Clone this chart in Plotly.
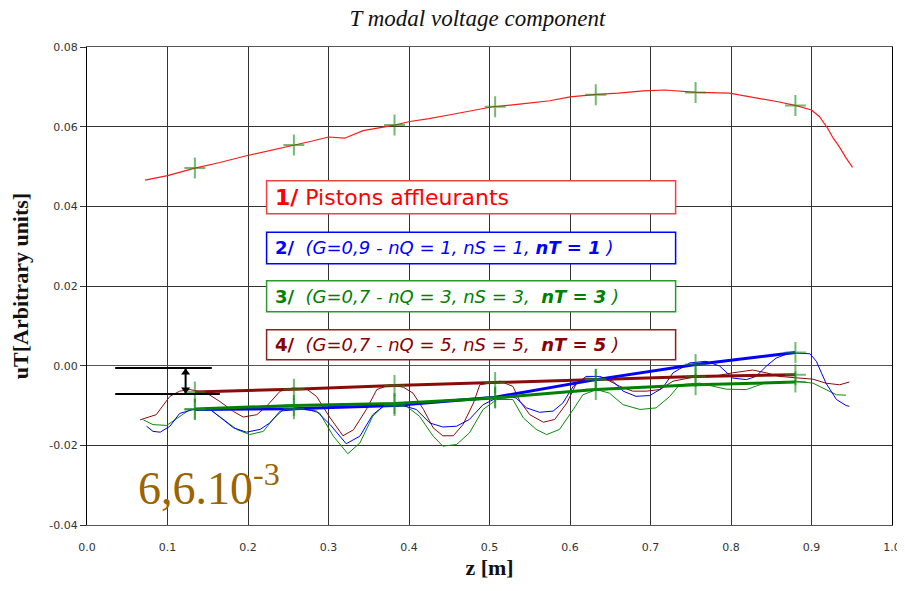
import plotly.graph_objects as go

# ---- data ----
red_x = [0.072, 0.100, 0.134, 0.165, 0.198, 0.230, 0.258, 0.280, 0.300, 0.320, 0.343, 0.362, 0.382,
         0.401, 0.425, 0.451, 0.478, 0.504, 0.540, 0.575, 0.600, 0.633, 0.660, 0.691, 0.718,
         0.757, 0.798, 0.836, 0.860, 0.881, 0.900, 0.910, 0.920, 0.927, 0.935, 0.943, 0.951]
red_y = [0.0466, 0.0477, 0.0496, 0.0510, 0.0527, 0.0541, 0.0554, 0.0564, 0.0574, 0.0571, 0.0590, 0.0597, 0.0604,
         0.0613, 0.0620, 0.0630, 0.0640, 0.0650, 0.0657, 0.0665, 0.0675, 0.0681, 0.0684, 0.0690, 0.0692,
         0.0686, 0.0684, 0.0671, 0.0662, 0.0653, 0.0642, 0.0625, 0.0596, 0.0571, 0.0548, 0.0521, 0.0498]

dred_x = [0.066, 0.086, 0.103, 0.115, 0.128, 0.149, 0.165, 0.182, 0.194, 0.211, 0.223, 0.240, 0.256, 0.273,
          0.285, 0.302, 0.318, 0.331, 0.347, 0.360, 0.376, 0.393, 0.405, 0.418, 0.430, 0.442, 0.455, 0.467,
          0.480, 0.488, 0.513, 0.529, 0.538, 0.550, 0.567, 0.581, 0.596, 0.608, 0.620, 0.645, 0.662, 0.678,
          0.695, 0.711, 0.728, 0.753, 0.778, 0.802, 0.827, 0.844, 0.860, 0.885, 0.902, 0.918, 0.935, 0.947]
dred_y = [-0.0136, -0.0123, -0.0077, -0.0064, -0.0060, -0.0069, -0.0090, -0.0115, -0.0129, -0.0123, -0.0102,
          -0.0064, -0.0056, -0.0059, -0.0077, -0.0131, -0.0176, -0.0161, -0.0110, -0.0060, -0.0048, -0.0054,
          -0.0069, -0.0110, -0.0156, -0.0176, -0.0176, -0.0148, -0.0094, -0.0048, -0.0039, -0.0052, -0.0090,
          -0.0123, -0.0142, -0.0135, -0.0094, -0.0044, -0.0031, -0.0034, -0.0052, -0.0064, -0.0064, -0.0060,
          -0.0039, -0.0029, -0.0027, -0.0018, -0.0011, -0.0018, -0.0027, -0.0031, -0.0034, -0.0044, -0.0048,
          -0.0041]

blue_x = [0.074, 0.082, 0.091, 0.103, 0.115, 0.132, 0.153, 0.165, 0.182, 0.198, 0.215, 0.227, 0.240, 0.265,
          0.285, 0.302, 0.322, 0.339, 0.355, 0.368, 0.389, 0.409, 0.426, 0.442, 0.459, 0.475, 0.492, 0.509,
          0.521, 0.533, 0.546, 0.562, 0.579, 0.591, 0.604, 0.620, 0.637, 0.653, 0.666, 0.682, 0.699, 0.715,
          0.728, 0.749, 0.769, 0.786, 0.802, 0.819, 0.831, 0.844, 0.856, 0.873, 0.898, 0.906, 0.918, 0.931,
          0.943, 0.947]
blue_y = [-0.0152, -0.0165, -0.0167, -0.0152, -0.0120, -0.0110, -0.0110, -0.0129, -0.0156, -0.0167, -0.0160,
          -0.0144, -0.0114, -0.0109, -0.0114, -0.0148, -0.0196, -0.0177, -0.0123, -0.0102, -0.0098, -0.0110,
          -0.0144, -0.0154, -0.0152, -0.0135, -0.0098, -0.0081, -0.0077, -0.0081, -0.0106, -0.0117, -0.0114,
          -0.0094, -0.0052, -0.0027, -0.0027, -0.0039, -0.0064, -0.0077, -0.0075, -0.0056, -0.0018, 0.0007,
          0.0011, -0.0001, -0.0031, -0.0035, -0.0027, -0.0001, 0.0019, 0.0032, 0.0030, 0.0011, -0.0044,
          -0.0085, -0.0100, -0.0102]

green_x = [0.070, 0.082, 0.099, 0.115, 0.128, 0.153, 0.169, 0.186, 0.202, 0.219, 0.231, 0.244, 0.273, 0.289,
           0.306, 0.324, 0.339, 0.355, 0.368, 0.397, 0.413, 0.430, 0.442, 0.459, 0.475, 0.492, 0.509, 0.529,
           0.542, 0.558, 0.571, 0.587, 0.604, 0.616, 0.633, 0.649, 0.666, 0.687, 0.707, 0.724, 0.736, 0.761,
           0.794, 0.819, 0.840, 0.860, 0.881, 0.902, 0.918, 0.931, 0.943]
green_y = [-0.0136, -0.0148, -0.0150, -0.0127, -0.0110, -0.0110, -0.0135, -0.0160, -0.0173, -0.0165, -0.0135,
           -0.0110, -0.0109, -0.0119, -0.0177, -0.0221, -0.0194, -0.0127, -0.0102, -0.0102, -0.0127, -0.0177,
           -0.0202, -0.0198, -0.0169, -0.0110, -0.0085, -0.0085, -0.0131, -0.0160, -0.0173, -0.0160, -0.0110,
           -0.0073, -0.0060, -0.0069, -0.0098, -0.0110, -0.0106, -0.0077, -0.0048, -0.0044, -0.0059, -0.0060,
           -0.0045, -0.0042, -0.0039, -0.0044, -0.0060, -0.0073, -0.0074]

cross_x = [0.134, 0.257, 0.382, 0.507, 0.632, 0.756, 0.880]
red_cross = [0.0496, 0.0554, 0.0604, 0.0650, 0.0680, 0.0686, 0.0653]
blue_fit = [-0.0110, -0.0108, -0.0100, -0.0079, -0.0035, 0.0003, 0.0033]
green_fit = [-0.0109, -0.0100, -0.0095, -0.0081, -0.0060, -0.0048, -0.0041]
dred_fit = [-0.0066, -0.0059, -0.0050, -0.0042, -0.0034, -0.0027, -0.0023]

# offset marker (6,6.10^-3) between the two reference levels
offset_x = 0.1225
offset_top = -0.0006
offset_bottom = -0.0071

x_ticks = [0.0, 0.1, 0.2, 0.3, 0.4, 0.5, 0.6, 0.7, 0.8, 0.9, 1.0]
y_ticks = [-0.04, -0.02, 0.0, 0.02, 0.04, 0.06, 0.08]

legend_texts = [
    "<b>1/</b> Pistons affleurants",
    "<b>2/</b>  <i>(G=0,9 - nQ = 1, nS = 1, <b>nT = 1</b> )</i>",
    "<b>3/</b>  <i>(G=0,7 - nQ = 3, nS = 3,  <b>nT = 3</b> )</i>",
    "<b>4/</b>  <i>(G=0,7 - nQ = 5, nS = 5,  <b>nT = 5</b> )</i>",
]

RED = "#ff1a1a"
BLUE = "#0000ff"
GREEN = "#0a8a0a"
DRED = "#8b0a0a"
CROSS = "rgba(20,140,20,0.6)"

fig = go.Figure()

fig.add_trace(go.Scatter(x=red_x, y=red_y, mode="lines", line=dict(color=RED, width=1.2)))
fig.add_trace(go.Scatter(x=dred_x, y=dred_y, mode="lines", line=dict(color=DRED, width=1)))
fig.add_trace(go.Scatter(x=green_x, y=green_y, mode="lines", line=dict(color=GREEN, width=1)))
fig.add_trace(go.Scatter(x=blue_x, y=blue_y, mode="lines", line=dict(color=BLUE, width=1)))

fig.add_trace(go.Scatter(x=cross_x, y=dred_fit, mode="lines", line=dict(color=DRED, width=3)))
fig.add_trace(go.Scatter(x=cross_x, y=blue_fit, mode="lines", line=dict(color=BLUE, width=3)))
fig.add_trace(go.Scatter(x=cross_x, y=green_fit, mode="lines", line=dict(color="#008000", width=3)))

for ys in (red_cross, dred_fit, blue_fit, green_fit):
    fig.add_trace(go.Scatter(x=cross_x, y=ys, mode="markers",
                             marker=dict(symbol="cross-thin", size=15,
                                         line=dict(color=CROSS, width=2))))

# double arrow for the offset
fig.add_trace(go.Scatter(x=[offset_x, offset_x], y=[offset_top, offset_bottom], mode="lines",
                         line=dict(color="black", width=2)))
fig.add_trace(go.Scatter(x=[offset_x, offset_x], y=[offset_top - 0.0011, offset_bottom + 0.0011],
                         mode="markers",
                         marker=dict(symbol=["triangle-up", "triangle-down"], size=8, color="black")))

# legend boxes (paper coords of the plot area)
boxes = [
    (0.7200, 0.6510, "#f04040", "#ff0000", 22),
    (0.6127, 0.5465, "#0000ff", "#0000ff", 18),
    (0.5110, 0.4462, "#2a9a2a", "#008000", 18),
    (0.4086, 0.3459, "#8b2020", "#8b0000", 18),
]
shapes = []
annotations = []
for (y1, y0, bc, tc, fs), txt in zip(boxes, legend_texts):
    shapes.append(dict(type="rect", xref="paper", yref="paper", x0=0.2231, x1=0.7312,
                       y0=y0, y1=y1, fillcolor="white", line=dict(color=bc, width=1.5),
                       layer="above"))
    annotations.append(dict(xref="paper", yref="paper", x=0.2309, y=(y0 + y1) / 2,
                            xanchor="left", yanchor="middle", showarrow=False, text=txt,
                            font=dict(family="DejaVu Sans", size=fs, color=tc)))

# reference level lines
shapes.append(dict(type="line", xref="x", yref="y", x0=0.035, x1=0.155, y0=offset_top, y1=offset_top,
                   line=dict(color="black", width=2), layer="above"))
shapes.append(dict(type="line", xref="x", yref="y", x0=0.035, x1=0.165, y0=offset_bottom,
                   y1=offset_bottom, line=dict(color="black", width=2), layer="above"))
annotations.append(dict(x=0.061, y=-0.0300, xref="x", yref="y", xanchor="left", yanchor="middle",
                        showarrow=False, text="6,6.10<sup>-3</sup>",
                        font=dict(family="Liberation Serif", size=46, color="#9a6400")))

# the page adds an 8px body margin, so the figure is 8px smaller and margins shifted
fig.update_layout(
    width=897, height=583,
    margin=dict(l=79, r=12.5, t=39, b=65.5, autoexpand=False),
    paper_bgcolor="white", plot_bgcolor="white",
    showlegend=False,
    title=dict(text="<i>T modal voltage component</i>", x=0.5234, xanchor="center",
               y=0.996, yanchor="top", automargin=False, pad=dict(t=0, b=0),
               font=dict(family="Liberation Serif", size=23, color="#111")),
    shapes=shapes, annotations=annotations,
)
fig.update_xaxes(range=[0, 1], tickvals=x_ticks, ticktext=[f"{v:.1f}" for v in x_ticks],
                 showgrid=True, gridcolor="#333", gridwidth=1, zeroline=False,
                 showline=True, linecolor="#555", linewidth=1, mirror=True,
                 ticks="", ticklabelstandoff=12, automargin=False,
                 tickfont=dict(family="DejaVu Sans", size=11, color="#333"),
                 title=dict(text="<b>z [m]</b>", standoff=6,
                            font=dict(family="Liberation Serif", size=22, color="#111")))
fig.update_yaxes(range=[-0.04, 0.08], tickvals=y_ticks, ticktext=[f"{v:.2f}" for v in y_ticks],
                 showgrid=True, gridcolor="#333", gridwidth=1,
                 zeroline=True, zerolinecolor="#555", zerolinewidth=1,
                 showline=True, linecolor="black", linewidth=1, mirror=True,
                 ticks="outside", ticklen=6, tickcolor="#333", automargin=False,
                 tickfont=dict(family="DejaVu Sans", size=11, color="#333"),
                 title=dict(text="<b>uT[Arbitrary units]</b>", standoff=16,
                            font=dict(family="Liberation Serif", size=22, color="#111")))

fig.write_html("out.html")
